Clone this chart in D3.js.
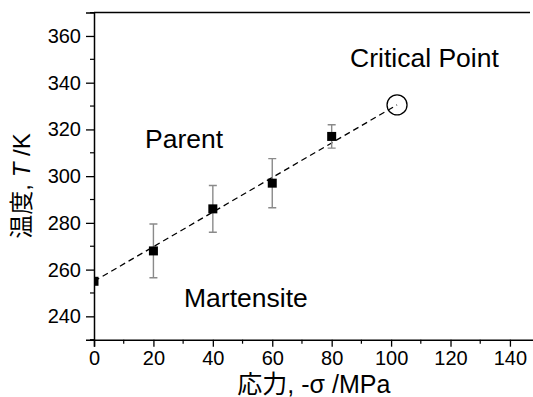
<!DOCTYPE html>
<html>
<head>
<meta charset="utf-8">
<script src="https://cdn.jsdelivr.net/npm/d3@7/dist/d3.min.js"></script>
<style>
  html, body { margin: 0; padding: 0; background: #fff; }
  svg { display: block; }
  text { font-family: "Liberation Sans", Arial, "Noto Sans CJK JP", sans-serif; fill: #000; }
</style>
</head>
<body>
<svg id="chart" width="533" height="397"></svg>
<script>
// Measured transition temperatures under compressive stress
const stress = [0, 20, 40, 60, 80];
const temperature = [255, 268, 286, 297, 317];
const tempError = [0, 11.5, 10, 10.5, 5];

// Fitted phase boundary, ending at the critical point
const boundaryStress = [0, 102];
const boundaryTemp = [255, 330.5];
const criticalPoint = [102, 330.5];

const xTicks = [0, 20, 40, 60, 80, 100, 120, 140];
const yTicks = [240, 260, 280, 300, 320, 340, 360];
const xMinor = d3.range(0, 150, 10);
const yMinor = d3.range(230, 371, 10);

const margin = { left: 94, top: 12.6, right: 533.7, bottom: 339.7 };

const svg = d3.select("#chart");

const x = d3.scaleLinear().domain([0, 148]).range([margin.left, margin.right]);
const y = d3.scaleLinear().domain([230, 370]).range([margin.bottom, margin.top]);

svg.append("defs").append("clipPath").attr("id", "plot-clip")
  .append("rect")
  .attr("x", margin.left).attr("y", margin.top)
  .attr("width", margin.right - margin.left)
  .attr("height", margin.bottom - margin.top);

const plot = svg.append("g").attr("clip-path", "url(#plot-clip)");

// Phase boundary (dashed)
const line = d3.line().x(d => x(d[0])).y(d => y(d[1]));
plot.append("path")
  .datum(boundaryStress.map((s, i) => [s, boundaryTemp[i]]))
  .attr("d", line)
  .attr("fill", "none")
  .attr("stroke", "#000")
  .attr("stroke-width", 1.3)
  .attr("stroke-dasharray", "6,4");

// Error bars
const pts = stress.map((s, i) => ({ s, t: temperature[i], e: tempError[i] }));
const eb = plot.append("g").attr("stroke", "#8a8a8a").attr("stroke-width", 1.4);
pts.filter(d => d.e > 0).forEach(d => {
  eb.append("line").attr("x1", x(d.s)).attr("x2", x(d.s))
    .attr("y1", y(d.t - d.e)).attr("y2", y(d.t + d.e));
  [d.t - d.e, d.t + d.e].forEach(v => {
    eb.append("line").attr("x1", x(d.s) - 4).attr("x2", x(d.s) + 4)
      .attr("y1", y(v)).attr("y2", y(v));
  });
});

// Square markers
plot.selectAll("rect.pt").data(pts).enter().append("rect")
  .attr("class", "pt")
  .attr("x", d => x(d.s) - 4.5).attr("y", d => y(d.t) - 4.5)
  .attr("width", 9).attr("height", 9)
  .attr("fill", "#000");

// Critical point marker
plot.append("circle")
  .attr("cx", x(criticalPoint[0])).attr("cy", y(criticalPoint[1]))
  .attr("r", 10)
  .attr("fill", "none").attr("stroke", "#000").attr("stroke-width", 1.3);

// Axes
const xAxis = d3.axisBottom(x).tickValues(xTicks).tickSize(7).tickPadding(4);
const yAxis = d3.axisLeft(y).tickValues(yTicks).tickSize(8).tickPadding(5);

const gx = svg.append("g").attr("transform", `translate(0,${margin.bottom})`).call(xAxis);
const gy = svg.append("g").attr("transform", `translate(${margin.left},0)`).call(yAxis);

[gx, gy].forEach(g => {
  g.select(".domain").attr("stroke", "#000").attr("stroke-width", 1.5);
  g.selectAll(".tick line").attr("stroke", "#000").attr("stroke-width", 1.3);
  g.selectAll(".tick text").attr("font-size", 20)
    .attr("font-family", "'Liberation Sans', Arial, sans-serif").attr("fill", "#000");
});

// Minor ticks
gx.selectAll(".minor").data(xMinor.filter(v => v % 20 !== 0)).enter().append("line")
  .attr("x1", d => x(d)).attr("x2", d => x(d))
  .attr("y1", 0).attr("y2", 4)
  .attr("stroke", "#000").attr("stroke-width", 1.2);
gy.selectAll(".minor").data(yMinor.filter(v => v % 20 !== 0)).enter().append("line")
  .attr("y1", d => y(d)).attr("y2", d => y(d))
  .attr("x1", 0).attr("x2", -4)
  .attr("stroke", "#000").attr("stroke-width", 1.2);

// Top frame line
svg.append("line")
  .attr("x1", margin.left).attr("x2", 530)
  .attr("y1", margin.top).attr("y2", margin.top)
  .attr("stroke", "#000").attr("stroke-width", 1.5);

// Axis titles
svg.append("text")
  .attr("x", (margin.left + margin.right) / 2).attr("y", 393)
  .attr("text-anchor", "middle")
  .attr("font-size", 25)
  .text("応力, -σ /MPa");

const yt = svg.append("text")
  .attr("transform", "translate(30,186) rotate(-90)")
  .attr("text-anchor", "middle")
  .attr("font-size", 24);
yt.append("tspan").text("温度, ");
yt.append("tspan").attr("font-style", "italic").text("T");
yt.append("tspan").text(" /K");

// Region labels
const labels = [
  { text: "Critical Point", s: 86.2, t: 346.7 },
  { text: "Parent", s: 17.2, t: 312 },
  { text: "Martensite", s: 30.3, t: 244 }
];
svg.selectAll("text.region").data(labels).enter().append("text")
  .attr("class", "region")
  .attr("x", d => x(d.s)).attr("y", d => y(d.t))
  .attr("font-size", 26.5)
  .text(d => d.text);
</script>
</body>
</html>
